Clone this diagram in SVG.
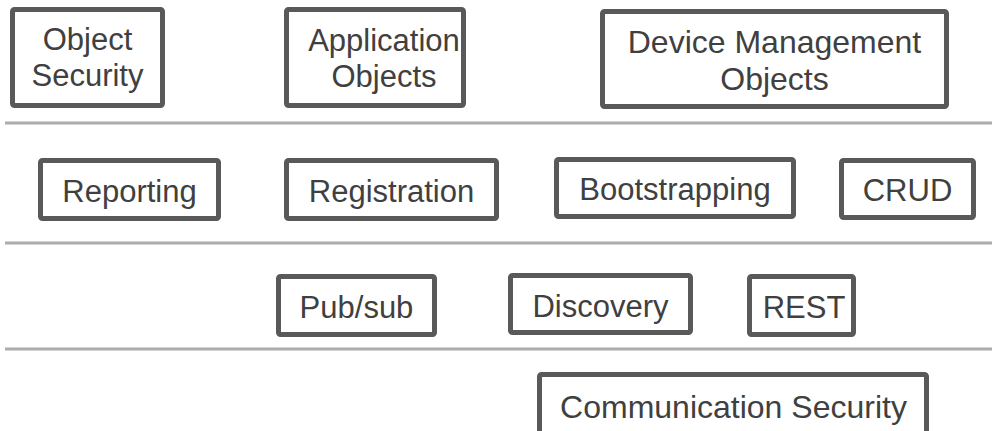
<svg xmlns="http://www.w3.org/2000/svg" width="992" height="431" viewBox="0 0 992 431">
  <style>
    .box { fill: #ffffff; stroke: #595959; stroke-width: 5; }
    .sep { stroke: #acacac; stroke-width: 3; }
    .lbl { font-family: "Liberation Sans", Arial, sans-serif; font-size: 31px; fill: #404040; text-anchor: middle; }
    .lg { font-size: 32px; }
  </style>
  <rect width="992" height="431" fill="#ffffff"/>

  <!-- layer separators -->
  <g id="separators">
    <line class="sep" x1="5" y1="123" x2="992" y2="123"/>
    <line class="sep" x1="5" y1="243" x2="992" y2="243"/>
    <line class="sep" x1="5" y1="349" x2="992" y2="349"/>
  </g>

  <!-- top layer: objects -->
  <g id="object-security">
    <rect class="box" x="12.5" y="9.5" width="150" height="96" rx="2"/>
    <text class="lbl" x="87.5" y="50">Object</text>
    <text class="lbl" x="87.5" y="86">Security</text>
  </g>
  <g id="application-objects">
    <rect class="box" x="286.5" y="9.5" width="177" height="96" rx="2"/>
    <text class="lbl" x="384" y="51">Application</text>
    <text class="lbl" x="384" y="87">Objects</text>
  </g>
  <g id="device-management-objects">
    <rect class="box" x="602.5" y="11.5" width="344" height="95" rx="2"/>
    <text class="lbl lg" x="774.5" y="53">Device Management</text>
    <text class="lbl lg" x="774.5" y="90">Objects</text>
  </g>

  <!-- interfaces layer -->
  <g id="reporting">
    <rect class="box" x="40.5" y="160.5" width="178" height="58" rx="2"/>
    <text class="lbl" x="129.5" y="202">Reporting</text>
  </g>
  <g id="registration">
    <rect class="box" x="286.5" y="160.5" width="210" height="58" rx="2"/>
    <text class="lbl" x="391.5" y="202">Registration</text>
  </g>
  <g id="bootstrapping">
    <rect class="box" x="556.5" y="159.5" width="237" height="57" rx="2"/>
    <text class="lbl" x="675" y="200">Bootstrapping</text>
  </g>
  <g id="crud">
    <rect class="box" x="841.5" y="160.5" width="132" height="57" rx="2"/>
    <text class="lbl" x="907.5" y="201">CRUD</text>
  </g>

  <!-- interaction layer -->
  <g id="pub-sub">
    <rect class="box" x="278.5" y="276.5" width="156" height="58" rx="2"/>
    <text class="lbl" x="356.5" y="318">Pub/sub</text>
  </g>
  <g id="discovery">
    <rect class="box" x="510.5" y="275.5" width="180" height="57" rx="2"/>
    <text class="lbl" x="600.5" y="317">Discovery</text>
  </g>
  <g id="rest">
    <rect class="box" x="749.5" y="276.5" width="104" height="58" rx="2"/>
    <text class="lbl" x="804" y="318">REST</text>
  </g>

  <!-- transport layer -->
  <g id="communication-security">
    <rect class="box" x="539.5" y="374.5" width="387" height="70" rx="2"/>
    <text class="lbl lg" x="733.5" y="418">Communication Security</text>
  </g>
</svg>
